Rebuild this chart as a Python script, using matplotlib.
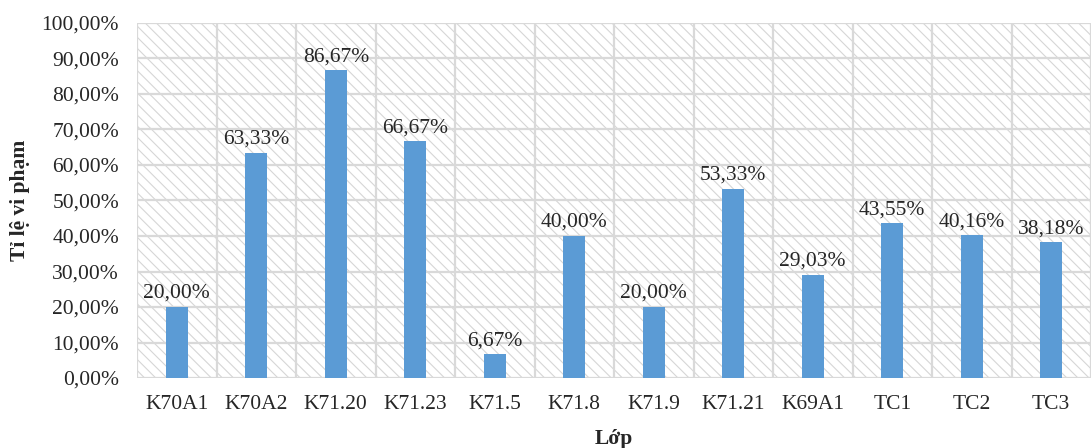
import matplotlib
matplotlib.use("Agg")
import matplotlib.pyplot as plt
from matplotlib.patches import Rectangle
import numpy as np

categories = ["K70A1", "K70A2", "K71.20", "K71.23", "K71.5", "K71.8", "K71.9",
              "K71.21", "K69A1", "TC1", "TC2", "TC3"]
values = [20.00, 63.33, 86.67, 66.67, 6.67, 40.00, 20.00, 53.33, 29.03, 43.55, 40.16, 38.18]
yticks = [0, 10, 20, 30, 40, 50, 60, 70, 80, 90, 100]

plt.rcParams['font.family'] = ['Liberation Serif', 'DejaVu Serif']
plt.rcParams['hatch.linewidth'] = 0.8

FS = 15.5
TXT = '#262626'

fig = plt.figure(figsize=(10.91, 4.48), dpi=100)
ax = fig.add_axes([137/1091, 1-378/448, 1-137/1091, (378-23)/448])

x = np.arange(len(categories))
ax.set_xlim(-0.5, len(categories) - 0.5)
ax.set_ylim(0, 100)

# hatched background
bg = Rectangle((0, 0), 1, 1, transform=ax.transAxes, facecolor='white',
               edgecolor='#d6d6d6', hatch='\\' * 3, linewidth=0, zorder=0)
ax.add_patch(bg)

# grid lines
for yv in yticks:
    ax.axhline(yv, color='#d9d9d9', lw=1.6, zorder=1)
for b in np.arange(-0.5, len(categories) + 0.5, 1):
    ax.axvline(b, color='#d9d9d9', lw=1.6, zorder=1)

bars = ax.bar(x, values, width=0.28, color='#5B9BD5', zorder=3)
for xi, v in zip(x, values):
    ax.annotate(f"{v:.2f}%".replace('.', ','), (xi, v), xytext=(0, 3),
                textcoords='offset points', ha='center', va='bottom',
                fontsize=FS, color=TXT, zorder=4)

for s in ax.spines.values():
    s.set_visible(False)

ax.set_xticks(x)
ax.set_xticklabels(categories, fontsize=FS, color=TXT)
ax.set_yticks(yticks)
ax.set_yticklabels([f"{v:.2f}%".replace('.', ',') for v in yticks], fontsize=FS, color=TXT)
ax.tick_params(axis='both', length=0)
ax.tick_params(axis='x', pad=12)
ax.tick_params(axis='y', pad=13)

ax.set_xlabel("Lớp", fontsize=FS, fontweight='bold', labelpad=11, color=TXT)
fig.text(20/1091, 1-200/448, "Tỉ lệ vi phạm", rotation=90, fontsize=FS,
         fontweight='bold', ha='center', va='center', color=TXT)

fig.savefig("out.png", dpi=100)
